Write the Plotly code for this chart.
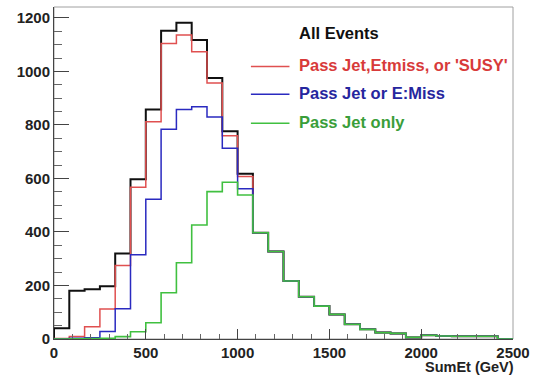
import numpy as np
import plotly.graph_objects as go

# 30 bins from 0 to 2500 GeV
bin_edges = list(np.linspace(0, 2500, 31))

all_events = [40, 180, 186, 197, 320, 597, 858, 1152, 1182, 1118, 976, 777, 618, 397, 327,
              217, 158, 123, 92, 55, 36, 24, 21, 6, 14, 11, 10, 10, 10, 0]
pass_jet_etmiss_susy = [2, 9, 46, 112, 275, 567, 812, 1105, 1136, 1074, 957, 760, 607, 397, 327,
                        217, 158, 123, 92, 55, 36, 24, 21, 6, 14, 11, 10, 10, 10, 0]
pass_jet_or_emiss = [0, 3, 5, 28, 113, 315, 522, 784, 858, 868, 830, 713, 562, 397, 327,
                     217, 158, 123, 92, 55, 36, 24, 21, 6, 14, 11, 10, 10, 10, 0]
pass_jet_only = [0, 1, 2, 3, 9, 27, 61, 173, 285, 426, 551, 586, 538, 397, 327,
                 217, 158, 123, 92, 55, 36, 24, 21, 6, 14, 11, 10, 10, 10, 0]

series = [
    ("All Events", all_events, "#101010", 2.0),
    ("Pass Jet,Etmiss, or 'SUSY'", pass_jet_etmiss_susy, "#e05050", 1.5),
    ("Pass Jet or E:Miss", pass_jet_or_emiss, "#2a2ac0", 1.5),
    ("Pass Jet only", pass_jet_only, "#40c040", 1.6),
]
legend_colors = ["#101010", "#d83a3a", "#26269e", "#3a9e3a"]


def step_xy(vals):
    xs = [bin_edges[0]] + bin_edges[:-1] + [bin_edges[-1]]
    ys = [0] + list(vals) + [0]
    return xs, ys


fig = go.Figure()
for name, vals, color, w in series:
    xs, ys = step_xy(vals)
    fig.add_trace(go.Scatter(x=xs, y=ys, mode="lines", line=dict(color=color, width=w, shape="hv"),
                             name=name, showlegend=False, hoverinfo="skip"))

FONT = "Liberation Sans, Arial, sans-serif"

fig.update_layout(
    width=537, height=376,
    margin=dict(l=54, r=19, t=7, b=37),
    paper_bgcolor="white", plot_bgcolor="white",
    font=dict(family=FONT, size=15, color="#222222"),
    xaxis=dict(range=[0, 2500], dtick=500, tick0=0, ticks="inside", ticklen=10, tickwidth=1,
               tickcolor="#444444", showline=True, linecolor="#444444", linewidth=1,
               showgrid=False, zeroline=False,
               tickfont=dict(family=FONT, size=15, color="#222222", weight="bold"),
               minor=dict(dtick=100, ticks="inside", ticklen=5, tickcolor="#666666")),
    yaxis=dict(range=[0, 1241], dtick=200, tick0=0, ticks="inside", ticklen=15, tickwidth=1,
               tickcolor="#444444", showline=True, linecolor="#444444", linewidth=1,
               showgrid=False, zeroline=False,
               tickfont=dict(family=FONT, size=15, color="#222222", weight="bold"),
               minor=dict(dtick=50, ticks="inside", ticklen=8, tickcolor="#666666")),
)

# frame (top/right grey)
fig.add_shape(type="rect", xref="x domain", yref="y domain", x0=0, x1=1, y0=0, y1=1,
              line=dict(color="#a0a0a0", width=1), layer="below")

# legend
leg_y = [0.9217, 0.825, 0.741, 0.654]
for i, (name, vals, color, w) in enumerate(series):
    fig.add_annotation(xref="paper", yref="paper", x=0.530, y=leg_y[i], xanchor="left",
                       yanchor="middle", text=name, showarrow=False,
                       font=dict(family=FONT, size=16.5, color=legend_colors[i], weight="bold"))
    if i > 0:
        fig.add_shape(type="line", xref="paper", yref="paper", x0=0.429, x1=0.513,
                      y0=leg_y[i] - 0.004, y1=leg_y[i] - 0.004,
                      line=dict(color=color, width=1.5))

# x-axis title
fig.add_annotation(xref="paper", yref="paper", x=0.996, y=0, xanchor="right", yanchor="top",
                   yshift=-18, xshift=5, text="SumEt (GeV)", showarrow=False,
                   font=dict(family=FONT, size=14.5, color="#222222", weight="bold"))

fig.write_html("out.html")
